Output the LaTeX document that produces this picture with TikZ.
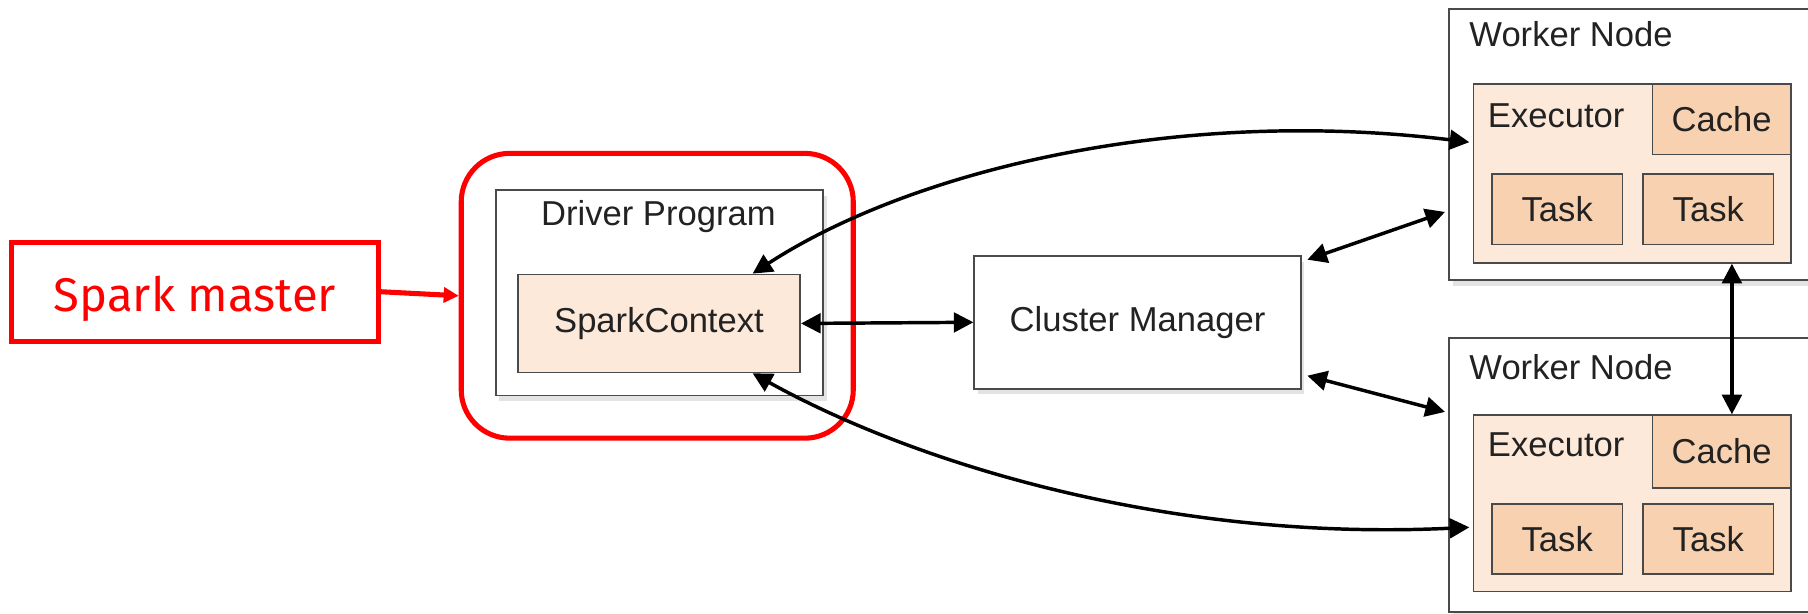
\documentclass[tikz,border=0pt]{standalone}
\usepackage{fontspec}
\setmainfont{Liberation Sans}
\newfontfamily\redfont{Fira Sans}
\usetikzlibrary{calc,shadows,arrows.meta}
\definecolor{peachlight}{HTML}{FCE9DA}
\definecolor{peach}{HTML}{F8D2B0}
\definecolor{boxline}{HTML}{4A4A4A}
\definecolor{sparkred}{HTML}{FF0000}
\definecolor{txt}{HTML}{222222}
\tikzset{
  frame/.style={draw=boxline, line width=0.8pt, fill=white, inner sep=0pt,
    drop shadow={opacity=0.22, shadow xshift=1.5pt, shadow yshift=-2.5pt}},
  execbox/.style={draw=boxline, line width=0.7pt, fill=peachlight, inner sep=0pt},
  darkbox/.style={draw=boxline, line width=0.7pt, fill=peach, inner sep=0pt,
    font=\fontsize{15}{17}\selectfont, text=txt},
  lbl/.style={font=\fontsize{15}{17}\selectfont, text=txt, inner sep=0pt},
  conn/.style={line width=1.5pt, {Triangle[length=8.5pt,width=8.5pt]}-{Triangle[length=8.5pt,width=8.5pt]}},
  redbox/.style={draw=sparkred, line width=2.2pt, inner sep=0pt},
  redarrow/.style={draw=sparkred, line width=2.2pt, -{Triangle[length=6.5pt,width=6.5pt]}},
}
\begin{document}
\begin{tikzpicture}[x=0.5pt,y=-0.5pt]
\clip (0,0) rectangle (1568,532);
\fill[white] (0,0) rectangle (1568,532);

% Spark master annotation
\node[redbox, minimum width=159pt, minimum height=43pt] (sm) at (169,253) {};
\node[font=\redfont\fontsize{20.5}{22}\selectfont, text=sparkred, inner sep=0pt] (smtxt) at (169,259) {Spark master};

% Driver program
\node[frame, minimum width=142pt, minimum height=89pt] (dp) at (572,254) {};
\node[lbl] (dplbl) at (571,188) {Driver Program};
\node[execbox, minimum width=122.5pt, minimum height=42.5pt, font=\fontsize{15}{17}\selectfont, text=txt] (sc) at (571.5,280.5) {SparkContext};

% red rounded frame
\node[redbox, rounded corners=21pt, minimum width=170pt, minimum height=123.5pt] (rr) at (570,256.5) {};
\draw[redarrow] (sm.east) -- (rr.west);

% Cluster manager
\node[frame, minimum width=141.5pt, minimum height=57.5pt, font=\fontsize{15}{17}\selectfont, text=txt] (cm) at (986.5,279.5) {Cluster Manager};

% Worker node 1
\node[frame, minimum width=161.5pt, minimum height=117.5pt] (w1) at (1418.5,125.5) {};
\node[lbl, anchor=west] (w1lbl) at (1274,30) {Worker Node};
\node[execbox, minimum width=137.5pt, minimum height=77.5pt] (ex1) at (1415.5,150.5) {};
\node[lbl, anchor=west] (ex1lbl) at (1290,100) {Executor};
\node[darkbox, minimum width=60pt, minimum height=30.5pt] (ca1) at (1493,103.5) {Cache};
\node[darkbox, minimum width=56.5pt, minimum height=30.5pt] (t1a) at (1350.5,181.5) {Task};
\node[darkbox, minimum width=56.5pt, minimum height=30.5pt] (t1b) at (1481.5,181.5) {Task};

% Worker node 2
\node[frame, minimum width=161.5pt, minimum height=119pt] (w2) at (1418.5,412) {};
\node[lbl, anchor=west] (w2lbl) at (1274,318) {Worker Node};
\node[execbox, minimum width=137.5pt, minimum height=76.5pt] (ex2) at (1415.5,436.5) {};
\node[lbl, anchor=west] (ex2lbl) at (1290,386) {Executor};
\node[darkbox, minimum width=60pt, minimum height=31.5pt] (ca2) at (1493,391.5) {Cache};
\node[darkbox, minimum width=56.5pt, minimum height=30.5pt] (t2a) at (1350.5,467.5) {Task};
\node[darkbox, minimum width=56.5pt, minimum height=30.5pt] (t2b) at (1481.5,467.5) {Task};

% connectors
\draw[conn] (sc.east) -- (cm.west);
\draw[conn] ($(cm.north east)+(5,4)$) -- ($(w1.south west)+(-3,-60)$);
\draw[conn] ($(cm.south east)+(5,-12)$) -- ($(w2.north west)+(-3,65)$);
\coordinate (vx) at (1502,0);
\draw[conn] (ex1.south -| vx) -- (ca2.north -| vx);
\draw[conn] ($(sc.north east)+(-42,0)$) .. controls (790,148) and (1020,92) .. ($(ex1.north west)+(-3,51)$);
\draw[conn] ($(sc.south east)+(-42,0)$) .. controls (790,400) and (1010,470) .. ($(ex2.north west)+(-3,98)$);
\end{tikzpicture}
\end{document}
